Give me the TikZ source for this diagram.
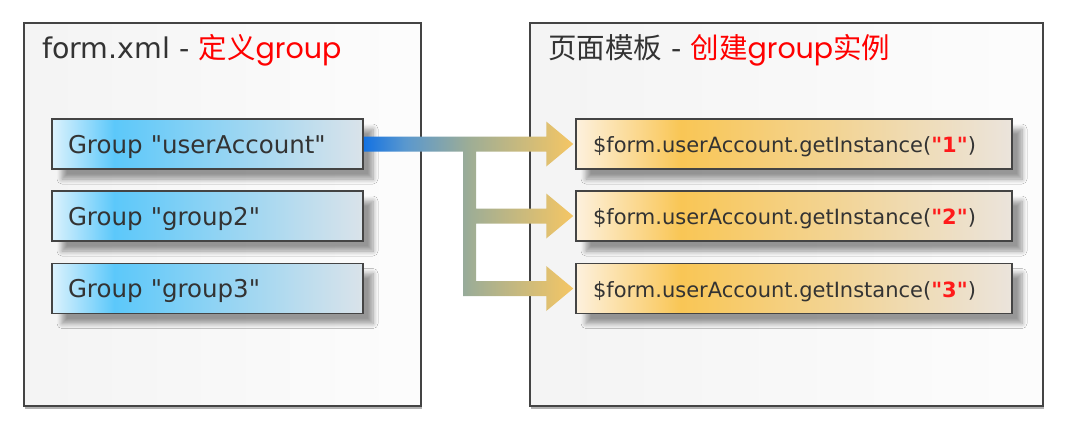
\documentclass[tikz,border=0pt]{standalone}
\usepackage{fontspec}
\setmainfont{DejaVu Sans}
\newfontfamily\dv{DejaVu Sans}
\newfontfamily\cjk{Noto Sans CJK SC}
\newfontfamily\geo{Poppins}
\usetikzlibrary{calc,shadows,shadows.blur}
\newcommand\qq{{\dv\symbol{34}}}
\definecolor{border}{HTML}{444444}
\definecolor{txt}{HTML}{333333}
\definecolor{numred}{HTML}{FF1A1A}
\definecolor{bl0}{HTML}{DCF2FD}
\definecolor{bl1}{HTML}{5CC8FA}
\definecolor{bl2}{HTML}{DAE3EA}
\definecolor{or0}{HTML}{FDF1DE}
\definecolor{or1}{HTML}{F9C655}
\definecolor{or2}{HTML}{EBE4DC}
\definecolor{ar0}{HTML}{1472E2}
\definecolor{ar1}{HTML}{5A98CE}
\definecolor{ar2}{HTML}{9DAD96}
\definecolor{ar3}{HTML}{F5C664}
\pgfdeclarehorizontalshading{blueshade}{100bp}{color(0bp)=(bl0); color(25bp)=(bl0); color(35bp)=(bl1); color(75bp)=(bl2); color(100bp)=(bl2)}
\pgfdeclarehorizontalshading{orangeshade}{100bp}{color(0bp)=(or0); color(25bp)=(or0); color(37bp)=(or1); color(75bp)=(or2); color(100bp)=(or2)}
\pgfdeclarehorizontalshading{arrowshade}{100bp}{color(0bp)=(ar0); color(25bp)=(ar0); color(35bp)=(ar1); color(50bp)=(ar2); color(75bp)=(ar3); color(100bp)=(ar3)}
\tikzset{
  panel/.style={draw=border, line width=1.5pt, left color=black!4.5, right color=black!1,
    drop shadow={shadow xshift=0.5pt, shadow yshift=-2.5pt, fill=black, opacity=0.3},
    minimum height=383pt, inner sep=0pt},
  boxshadow/.style={blur shadow={shadow xshift=10pt, shadow yshift=-10pt, shadow blur radius=5pt, shadow blur steps=8, shadow opacity=40}},
  bluebox/.style={boxshadow, draw=border, line width=1.5pt, shading=blueshade,
    minimum height=50pt, inner xsep=16pt, text width=279pt, align=left,
    text height=18pt, text depth=0pt, text=txt, font=\dv\fontsize{24.5}{28}\selectfont},
  orangebox/.style={boxshadow, draw=border, line width=1.5pt, shading=orangeshade,
    minimum height=50pt, inner xsep=17pt, text width=402pt, align=left,
    text height=17pt, text depth=0pt, text=txt, font=\dv\fontsize{21}{25}\selectfont},
  title/.style={anchor=base west, inner sep=0pt, text=txt, font=\dv\fontsize{28.5}{32}\selectfont},
}
\begin{document}
\begin{tikzpicture}[x=1pt,y=-1pt]
\useasboundingbox (0,0) rectangle (1067,432);
% panels
\node[panel, minimum width=397pt] (p1) at (222.5,214.5) {};
\node[panel, minimum width=513pt] (p2) at (786.5,214.5) {};
% titles
\node[title] (t1title) at (42,58) {form.xml - {\color{red}\cjk 定义\geo group}};
\node[title] (t2title) at (548,58) {{\cjk 页面模板} - {\color{red}\cjk 创建\geo group\cjk 实例}};
% left boxes
\node[bluebox] (b1) at (207.5,144) {Group "userAccount"};
\node[bluebox] (b2) at (207.5,216) {Group "group2"};
\node[bluebox] (b3) at (207.5,288.5) {Group "group3"};
% right boxes
\node[orangebox] (o1) at (794,144) {\$form.userAccount.getInstance({\color{numred}\bfseries "1"})};
\node[orangebox] (o2) at (794,216) {\$form.userAccount.getInstance({\color{numred}\bfseries "2"})};
\node[orangebox] (o3) at (794,288.5) {\$form.userAccount.getInstance({\color{numred}\bfseries "3"})};
% branching arrow
\coordinate (jx) at (469.5,0);
\coordinate (t1) at ($(o1.west)+(-2,0)$);
\coordinate (t2) at ($(o2.west)+(-2,0)$);
\coordinate (t3) at ($(o3.west)+(-2,0)$);
\shade[shading=arrowshade]
  ($(b1.east)+(0,-7.5)$) -- ($(t1)+(-27,-7.5)$) -- ($(t1)+(-27,-22.5)$) -- (t1)
  -- ($(t1)+(-27,22.5)$) -- ($(t1)+(-27,7.5)$) -- ($(jx|-t1)+(6.5,7.5)$)
  -- ($(jx|-t2)+(6.5,-7.5)$) -- ($(t2)+(-27,-7.5)$) -- ($(t2)+(-27,-22.5)$) -- (t2)
  -- ($(t2)+(-27,22.5)$) -- ($(t2)+(-27,7.5)$) -- ($(jx|-t2)+(6.5,7.5)$)
  -- ($(jx|-t3)+(6.5,-7.5)$) -- ($(t3)+(-27,-7.5)$) -- ($(t3)+(-27,-22.5)$) -- (t3)
  -- ($(t3)+(-27,22.5)$) -- ($(t3)+(-27,7.5)$) -- ($(jx|-t3)+(-6.5,7.5)$)
  -- ($(jx|-t1)+(-6.5,7.5)$) -- ($(b1.east)+(0,7.5)$) -- cycle;
\end{tikzpicture}
\end{document}
